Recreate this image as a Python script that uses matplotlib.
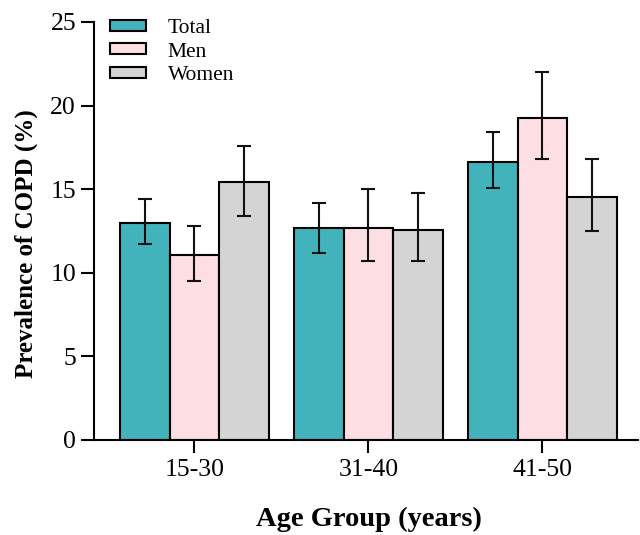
import matplotlib
matplotlib.use("Agg")
import matplotlib.pyplot as plt
import numpy as np

plt.rcParams['font.family'] = ['Liberation Serif', 'DejaVu Serif']

groups = ["15-30", "31-40", "41-50"]
series = ["Total", "Men", "Women"]
values = {
    "Total": [13.0, 12.65, 16.65],
    "Men":   [11.05, 12.65, 19.25],
    "Women": [15.4, 12.55, 14.55],
}
err_low = {
    "Total": [11.7, 11.2, 15.1],
    "Men":   [9.5, 10.7, 16.8],
    "Women": [13.4, 10.7, 12.5],
}
err_high = {
    "Total": [14.4, 14.2, 18.4],
    "Men":   [12.8, 15.0, 22.0],
    "Women": [17.6, 14.8, 16.8],
}
colors = {"Total": "#43B3BB", "Men": "#FDDEE2", "Women": "#D4D4D4"}
yticks = [0, 5, 10, 15, 20, 25]

fig = plt.figure(figsize=(6.4, 5.35), dpi=100)
ax = fig.add_axes([0.147, 0.1776, 0.85, 0.7813])

x = np.arange(len(groups))
w = 0.285
for i, s in enumerate(series):
    pos = x + (i - 1) * w
    v = np.array(values[s])
    lo = v - np.array(err_low[s])
    hi = np.array(err_high[s]) - v
    ax.bar(pos, v, width=w, color=colors[s], edgecolor='black', linewidth=1.5,
           label=s, zorder=2)
    ax.errorbar(pos, v, yerr=[lo, hi], fmt='none', ecolor='#111111',
                elinewidth=1.5, capsize=4.8, capthick=1.5, zorder=3)

ax.set_xlim(-0.576, 2.55)
ax.set_ylim(0, 25)
ax.set_yticks(yticks)
ax.set_xticks(x)
ax.set_xticklabels(groups)
for sp in ['top', 'right']:
    ax.spines[sp].set_visible(False)
for sp in ['left', 'bottom']:
    ax.spines[sp].set_linewidth(1.5)
ax.tick_params(axis='both', direction='out', length=9.5, width=1.5, labelsize=18.5)
ax.tick_params(axis='y', pad=3.5)
ax.tick_params(axis='x', pad=4)

ax.set_ylabel("Prevalence of COPD (%)", fontsize=18, fontweight='bold')
ax.yaxis.set_label_coords(-0.103, 0.469)
ax.set_xlabel("Age Group (years)", fontsize=20.5, fontweight='bold', labelpad=19)
ax.xaxis.label.set_x(0.5055)

leg = ax.legend(loc='upper left', bbox_to_anchor=(0.0294, 1.0075), frameon=False,
                fontsize=15.5, handlelength=1.67, handleheight=0.42,
                handletextpad=1.0, labelspacing=0.22, borderaxespad=0.0,
                borderpad=0.0)

fig.savefig("out.png", dpi=100)
